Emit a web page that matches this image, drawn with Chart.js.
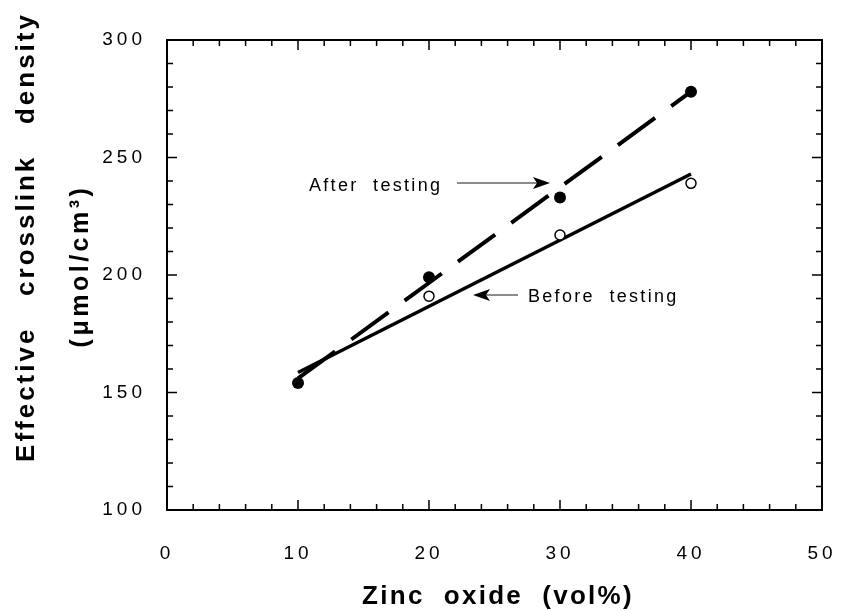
<!DOCTYPE html>
<html>
<head>
<meta charset="utf-8">
<script src="https://cdn.jsdelivr.net/npm/chart.js@4.4.1/dist/chart.umd.min.js"></script>
<style>
  html, body { margin: 0; padding: 0; background: #fff; overflow: hidden; }
  #wrap { width: 841px; height: 611px; }
  canvas { display: block; }
</style>
</head>
<body>
<div id="wrap"><canvas id="chart" width="841" height="611"></canvas></div>
<script>
// zinc oxide content (vol%)
const zinc = [10, 20, 30, 40];
// measured crosslink density, umol/cm3
const afterTesting = [154, 199, 233, 278];
const beforeZinc = [20, 30, 40];
const beforeTesting = [191, 217, 239];
// straight-line fits, drawn from x=10 to x=40
const fitZinc = [10, 40];
const afterFit = [156, 278];
const beforeFit = [158.5, 243];

const xTicks = [0, 10, 20, 30, 40, 50];
const yTicks = [100, 150, 200, 250, 300];

const FONT = 'Liberation Sans, Arial, Helvetica, sans-serif';

const pts = (xs, ys) => xs.map((x, i) => ({ x, y: ys[i] }));

// frame, inward ticks on all four sides, axis titles and the two callouts
const decor = {
  id: 'decor',
  beforeDraw(chart) {
    chart.ctx.letterSpacing = '4px';
  },
  afterDraw(chart) {
    const { ctx, chartArea: a, scales: { x, y } } = chart;
    ctx.save();
    ctx.strokeStyle = '#000';
    ctx.lineWidth = 2;
    ctx.strokeRect(a.left, a.top, a.right - a.left, a.bottom - a.top);

    ctx.lineWidth = 1.5;
    ctx.beginPath();
    for (let v = 0; v <= 50; v += 2) {
      const px = x.getPixelForValue(v);
      const len = v % 10 === 0 ? 10 : 6;
      ctx.moveTo(px, a.bottom); ctx.lineTo(px, a.bottom - len);
      ctx.moveTo(px, a.top); ctx.lineTo(px, a.top + len);
    }
    for (let v = 100; v <= 300; v += 10) {
      const py = y.getPixelForValue(v);
      const len = v % 50 === 0 ? 10 : 6;
      ctx.moveTo(a.left, py); ctx.lineTo(a.left + len, py);
      ctx.moveTo(a.right, py); ctx.lineTo(a.right - len, py);
    }
    ctx.stroke();

    // axis titles
    ctx.fillStyle = '#000';
    ctx.textAlign = 'center';
    ctx.textBaseline = 'middle';
    ctx.letterSpacing = '2.3px';
    ctx.font = 'bold 26px ' + FONT;
    ctx.fillText('Zinc  oxide  (vol%)', 498, 597);

    ctx.save();
    ctx.translate(27, 237);
    ctx.rotate(-Math.PI / 2);
    ctx.letterSpacing = '3px';
    ctx.font = 'bold 26px ' + FONT;
    ctx.fillText('Effective   crosslink   density', 0, 0);
    ctx.restore();

    ctx.save();
    ctx.translate(81, 266);
    ctx.rotate(-Math.PI / 2);
    ctx.letterSpacing = '3.5px';
    ctx.font = 'bold 25px ' + FONT;
    ctx.fillText('(\u03bcmol/cm\u00b3)', 0, 0);
    ctx.restore();

    // callouts
    ctx.letterSpacing = '2.3px';
    ctx.font = '18px ' + FONT;
    ctx.textAlign = 'left';
    ctx.fillText('After  testing', 309, 186);
    ctx.fillText('Before  testing', 528, 297);

    ctx.strokeStyle = '#666';
    ctx.lineWidth = 1.5;
    ctx.beginPath();
    ctx.moveTo(457, 183); ctx.lineTo(538, 183);
    ctx.moveTo(486, 295); ctx.lineTo(518, 295);
    ctx.stroke();

    ctx.fillStyle = '#000';
    ctx.beginPath();
    ctx.moveTo(550, 183); ctx.lineTo(533, 177); ctx.lineTo(537, 183); ctx.lineTo(533, 189);
    ctx.closePath();
    ctx.fill();
    ctx.beginPath();
    ctx.moveTo(473, 295); ctx.lineTo(490, 289); ctx.lineTo(486, 295); ctx.lineTo(490, 301);
    ctx.closePath();
    ctx.fill();

    ctx.restore();
    ctx.letterSpacing = '0px';
  }
};

new Chart(document.getElementById('chart'), {
  type: 'scatter',
  data: {
    datasets: [
      {
        label: 'After testing',
        data: pts(zinc, afterTesting),
        pointRadius: 6,
        pointBackgroundColor: '#000',
        pointBorderColor: '#000',
        pointBorderWidth: 0,
        showLine: false
      },
      {
        label: 'Before testing',
        data: pts(beforeZinc, beforeTesting),
        pointRadius: 5,
        pointBackgroundColor: '#fff',
        pointBorderColor: '#000',
        pointBorderWidth: 1.5,
        showLine: false
      },
      {
        label: 'After fit',
        data: pts(fitZinc, afterFit),
        showLine: true,
        borderColor: '#000',
        borderWidth: 4,
        borderDash: [46, 20],
        pointRadius: 0
      },
      {
        label: 'Before fit',
        data: pts(fitZinc, beforeFit),
        showLine: true,
        borderColor: '#000',
        borderWidth: 3.5,
        pointRadius: 0
      }
    ]
  },
  options: {
    responsive: false,
    animation: false,
    events: [],
    layout: { padding: { top: 40, right: 19, left: 0, bottom: 0 } },
    plugins: { legend: { display: false }, tooltip: { enabled: false } },
    scales: {
      x: {
        type: 'linear',
        min: 0, max: 50,
        afterBuildTicks: s => { s.ticks = xTicks.map(v => ({ value: v })); },
        afterFit: s => { s.height = 101; s.paddingLeft = 0; s.paddingRight = 0; },
        grid: { display: false, drawTicks: false },
        border: { display: false },
        ticks: { color: '#000', font: { family: FONT, size: 19 }, padding: 32, maxRotation: 0 }
      },
      y: {
        type: 'linear',
        min: 100, max: 300,
        afterBuildTicks: s => { s.ticks = yTicks.map(v => ({ value: v })); },
        afterFit: s => { s.width = 167; s.paddingTop = 0; s.paddingBottom = 0; },
        grid: { display: false, drawTicks: false },
        border: { display: false },
        ticks: { color: '#000', font: { family: FONT, size: 19 }, padding: 21 }
      }
    }
  },
  plugins: [decor]
});
</script>
</body>
</html>
